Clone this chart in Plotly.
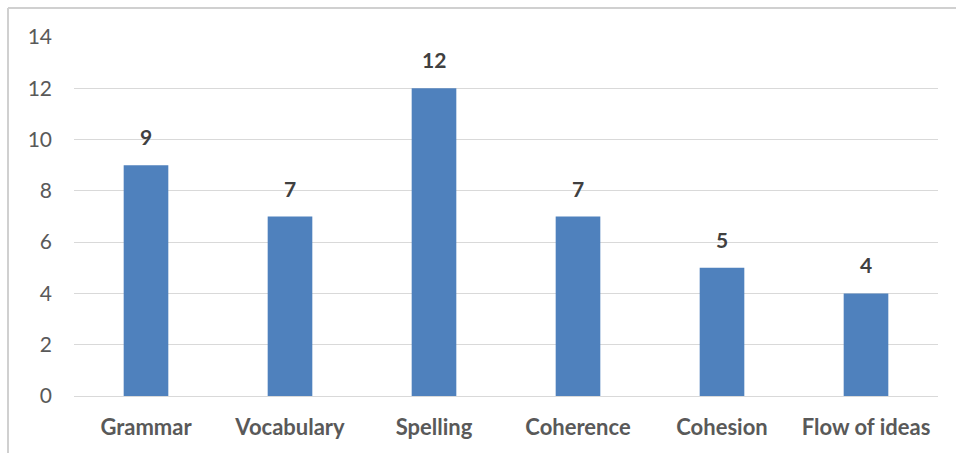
import plotly.graph_objects as go

categories = ["Grammar", "Vocabulary", "Spelling", "Coherence", "Cohesion", "Flow of ideas"]
counts = [9, 7, 12, 7, 5, 4]
y_ticks = [0, 2, 4, 6, 8, 10, 12, 14]

W, H = 956, 453
ML, MR, MT, MB = 74, 18, 37, 57
pw, ph = W - ML - MR, H - MT - MB

FONT = "Lato, 'Open Sans', sans-serif"

fig = go.Figure(go.Bar(
    x=categories, y=counts, width=0.31,
    marker=dict(color="#4f81bd", line=dict(width=0)),
    hoverinfo="x+y",
))

for c, v in zip(categories, counts):
    fig.add_annotation(
        x=c, y=v, text=f"<b>{v}</b>", showarrow=False,
        yanchor="bottom", yshift=14,
        font=dict(family=FONT, size=21, color="#404040"),
    )

# outer chart frame: left and top edges (right/bottom fall outside the page)
def px_x(p):
    return (p - ML) / pw

def px_y(p):
    return (H - MB - p) / ph

frame = dict(color="#d0d0d0", width=2)
fig.add_shape(type="line", xref="paper", yref="paper",
              x0=px_x(8), x1=px_x(W + 5), y0=px_y(8), y1=px_y(8), line=frame)
fig.add_shape(type="line", xref="paper", yref="paper",
              x0=px_x(8), x1=px_x(8), y0=px_y(8), y1=px_y(H + 5), line=frame)

fig.update_layout(
    width=W, height=H,
    margin=dict(l=ML, r=MR, t=MT, b=MB),
    paper_bgcolor="white", plot_bgcolor="white",
    showlegend=False,
    font=dict(family=FONT, color="#595959"),
    xaxis=dict(
        showgrid=False, showline=False, ticks="",
        tickfont=dict(family=FONT, size=22, color="#595959", weight="bold"),
        ticklabelstandoff=16,
    ),
    yaxis=dict(
        range=[0, 14], tickvals=y_ticks,
        showgrid=True, gridcolor="#d9d9d9", gridwidth=1,
        zeroline=True, zerolinecolor="#d9d9d9", zerolinewidth=1,
        showline=False, ticks="",
        tickfont=dict(family=FONT, size=21, color="#595959"),
        ticklabelstandoff=21,
    ),
)

fig.write_html("out.html")
